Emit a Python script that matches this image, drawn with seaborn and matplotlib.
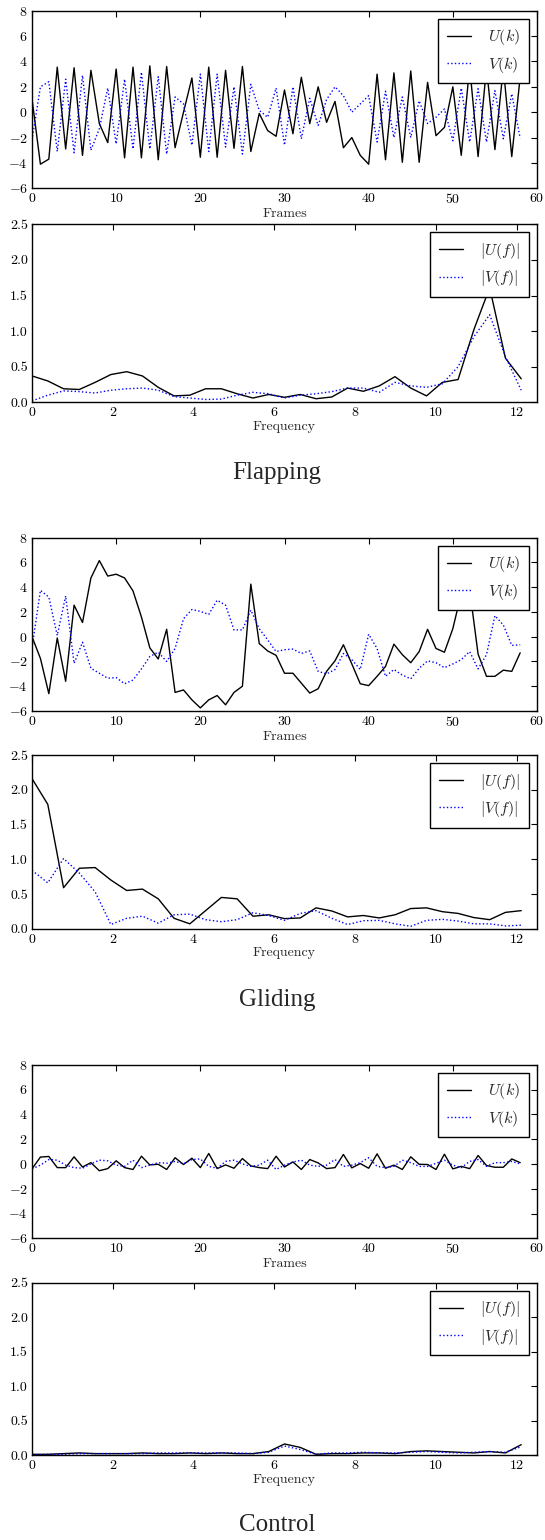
import numpy as np
import pandas as pd
import matplotlib
matplotlib.use("Agg")
import matplotlib.pyplot as plt
import seaborn as sns
from matplotlib.ticker import FixedLocator

# ---------------- data ----------------
frames = list(range(59))
freqs = [k * 25 / 64 for k in range(32)]

flap_U = [1.05, -4.1, -3.7, 3.55, -2.9, 3.5, -3.4, 3.3, -0.9, -2.4,
          3.4, -3.6, 3.55, -3.6, 3.65, -3.75, 3.6, -2.8, 0.0, 2.7,
          -3.55, 3.55, -3.55, 3.3, -2.85, 3.6, -3.1, -0.1, -1.45, -1.9,
          1.75, -1.7, 2.75, -0.9, 2.0, -0.8, 0.85, -2.8, -2.0, -3.4,
          -4.1, 3.0, -3.75, 3.1, -3.95, 3.25, -3.95, 2.35, -1.85, -1.2,
          2.0, -3.4, 3.6, -3.5, 3.5, -2.95, 3.5, -3.5, 2.75]
flap_V = [-2.2, 2.0, 2.4, -3.1, 2.6, -3.2, 2.9, -3.0, -1.3, 1.9,
          -2.5, 2.6, -2.9, 3.15, -2.9, 2.8, -3.3, 1.2, 0.65, -2.6,
          3.0, -3.1, 3.0, -2.75, 2.0, -3.3, 2.2, 0.15, -0.4, 1.9,
          -2.6, 2.0, -2.1, 1.1, -1.05, 1.0, 2.0, 1.3, 0.0, 0.65,
          1.3, -2.35, 1.65, -2.0, 1.2, -2.0, 0.9, -0.9, -0.4, 0.25,
          -2.25, 1.9, -2.35, 1.85, -2.35, 1.7, -2.1, 1.45, -2.05]
flap_Uf = [0.37, 0.30, 0.19, 0.18, 0.28, 0.39, 0.43, 0.37, 0.21, 0.09,
           0.10, 0.19, 0.19, 0.12, 0.06, 0.11, 0.07, 0.11, 0.05, 0.075,
           0.20, 0.155, 0.23, 0.36, 0.20, 0.09, 0.28, 0.32, 1.02, 1.61,
           0.62, 0.33]
flap_Vf = [0.02, 0.10, 0.16, 0.15, 0.13, 0.17, 0.19, 0.20, 0.17, 0.08,
           0.06, 0.04, 0.045, 0.10, 0.14, 0.12, 0.06, 0.10, 0.12, 0.15,
           0.20, 0.20, 0.14, 0.28, 0.23, 0.21, 0.26, 0.50, 0.92, 1.23,
           0.64, 0.17]

glide_U = [0.0, -1.75, -4.6, -0.1, -3.6, 2.55, 1.15, 4.75, 6.15, 4.9,
           5.05, 4.75, 3.7, 1.6, -0.9, -1.8, 0.6, -4.5, -4.3, -5.1,
           -5.75, -5.1, -4.75, -5.5, -4.5, -4.0, 4.25, -0.55, -1.15, -1.5,
           -2.95, -2.95, -3.75, -4.55, -4.2, -2.8, -1.95, -0.65, -2.2, -3.8,
           -3.95, -3.2, -2.4, -0.6, -1.45, -2.1, -1.2, 0.6, -0.95, -1.25,
           0.65, 3.5, 3.8, -1.4, -3.2, -3.2, -2.7, -2.8, -1.3]
glide_V = [-0.9, 3.75, 3.2, 0.1, 3.3, -2.15, -0.45, -2.55, -2.95, -3.35,
           -3.3, -3.8, -3.5, -2.6, -1.6, -1.25, -2.0, -0.95, 1.45, 2.2,
           2.05, 1.8, 2.95, 2.55, 0.55, 0.55, 2.15, 0.65, -0.25, -1.2,
           -1.05, -1.0, -1.35, -1.15, -2.8, -3.0, -2.65, -1.35, -1.85, -2.65,
           0.2, -0.95, -3.2, -2.65, -3.1, -3.4, -2.55, -1.95, -2.1, -2.5,
           -2.2, -1.85, -1.2, -2.6, -1.45, 1.7, 0.95, -0.7, -0.65]
glide_Uf = [2.16, 1.79, 0.59, 0.87, 0.88, 0.70, 0.55, 0.57, 0.43, 0.15,
            0.07, 0.26, 0.45, 0.43, 0.18, 0.20, 0.145, 0.155, 0.30, 0.255,
            0.17, 0.19, 0.155, 0.20, 0.29, 0.30, 0.245, 0.22, 0.16, 0.13,
            0.235, 0.26]
glide_Vf = [0.84, 0.66, 1.01, 0.80, 0.53, 0.06, 0.15, 0.18, 0.08, 0.20,
            0.21, 0.13, 0.10, 0.13, 0.23, 0.19, 0.12, 0.22, 0.26, 0.15,
            0.06, 0.115, 0.12, 0.07, 0.035, 0.12, 0.135, 0.11, 0.07, 0.07,
            0.04, 0.05]

ctrl_U = [-0.4, 0.55, 0.6, -0.3, -0.3, 0.57, -0.25, 0.1, -0.55, -0.38,
          0.25, -0.3, -0.45, 0.62, -0.08, -0.03, -0.45, 0.5, -0.05, 0.46,
          -0.3, 0.84, -0.38, -0.08, -0.35, 0.43, -0.16, -0.3, -0.38, 0.62,
          -0.25, 0.16, -0.45, 0.35, 0.08, -0.38, -0.3, 0.76, -0.32, 0.03,
          -0.35, 0.81, -0.35, -0.1, -0.45, 0.57, -0.03, -0.05, -0.45, 0.78,
          -0.4, -0.2, -0.38, 0.68, -0.13, -0.27, -0.27, 0.4, 0.1]
ctrl_V = [-0.4, -0.1, 0.35, 0.3, -0.1, -0.3, -0.35, 0.0, 0.3, 0.25,
          -0.1, -0.2, 0.3, -0.3, -0.1, 0.1, 0.05, 0.2, 0.0, 0.35,
          0.4, -0.2, -0.35, 0.2, 0.3, 0.0, -0.2, -0.1, 0.3, -0.45,
          -0.1, 0.15, 0.3, -0.1, -0.2, -0.1, 0.35, -0.2, -0.1, 0.1,
          0.5, -0.2, -0.3, -0.2, 0.3, 0.1, -0.2, -0.2, 0.05, 0.3,
          -0.1, -0.3, 0.2, 0.35, -0.2, 0.1, 0.1, 0.2, 0.0]
ctrl_Uf = [0.01, 0.01, 0.02, 0.03, 0.02, 0.02, 0.02, 0.03, 0.02, 0.02,
           0.03, 0.02, 0.03, 0.02, 0.02, 0.05, 0.16, 0.11, 0.01, 0.02,
           0.02, 0.03, 0.03, 0.02, 0.05, 0.06, 0.05, 0.04, 0.03, 0.05,
           0.03, 0.15]
ctrl_Vf = [0.0, 0.01, 0.01, 0.02, 0.02, 0.02, 0.02, 0.02, 0.03, 0.03,
           0.03, 0.03, 0.03, 0.03, 0.02, 0.04, 0.13, 0.08, 0.01, 0.03,
           0.03, 0.04, 0.03, 0.03, 0.04, 0.05, 0.04, 0.03, 0.04, 0.05,
           0.04, 0.12]

captions = ["Flapping", "Gliding", "Control"]
time_ticks = [0, 10, 20, 30, 40, 50, 60]
time_yticks = [-6, -4, -2, 0, 2, 4, 6, 8]
freq_ticks = [0, 2, 4, 6, 8, 10, 12]
freq_yticks = [0.0, 0.5, 1.0, 1.5, 2.0, 2.5]

# ---------------- style ----------------
sns.set_style("white")
plt.rcParams.update({
    "font.family": ["cmr10", "DejaVu Serif"],
    "mathtext.fontset": "cm",
    "axes.unicode_minus": False,
    "axes.formatter.use_mathtext": True,
    "axes.edgecolor": "black",
    "axes.linewidth": 1.0,
    "xtick.direction": "in",
    "ytick.direction": "in",
    "xtick.top": True,
    "ytick.right": True,
    "xtick.major.size": 4,
    "ytick.major.size": 4,
    "xtick.major.pad": 3,
    "ytick.major.pad": 3,
    "xtick.labelsize": 10,
    "ytick.labelsize": 10,
    "xtick.color": "black",
    "ytick.color": "black",
})

W, H = 545, 1540
fig = plt.figure(figsize=(W / 100, H / 100), dpi=100)

left = 32 / W
width = (537 - 32) / W
# (top px, bottom px) for each panel
boxes = [(10.7, 188.3), (224.3, 402.3),
         (537.7, 711.0), (755.0, 928.7),
         (1064.7, 1238.3), (1282.7, 1455.0)]
cap_y = [473, 1000, 1525]

groups = [
    (flap_U, flap_V, flap_Uf, flap_Vf),
    (glide_U, glide_V, glide_Uf, glide_Vf),
    (ctrl_U, ctrl_V, ctrl_Uf, ctrl_Vf),
]


def make_ax(top, bottom):
    return fig.add_axes([left, 1 - bottom / H, width, (bottom - top) / H])


def style_legend(ax, labels):
    handles = ax.get_lines()[:2]
    leg = ax.legend(handles, labels, loc="upper right", fontsize=11.5,
                    frameon=True, fancybox=False, edgecolor="black",
                    framealpha=1.0, handlelength=1.5, handletextpad=1.1,
                    borderpad=0.55, labelspacing=0.45, borderaxespad=0.5)
    leg.get_frame().set_linewidth(1.0)


for gi, (U, V, Uf, Vf) in enumerate(groups):
    # time-domain panel
    ax = make_ax(*boxes[2 * gi])
    dft = pd.DataFrame({"k": frames, "U": U, "V": V})
    sns.lineplot(data=dft, x="k", y="U", ax=ax, color="black", lw=1.0)
    sns.lineplot(data=dft, x="k", y="V", ax=ax, color="blue", lw=1.0,
                 linestyle=":")
    ax.set_xlim(0, 60)
    ax.set_ylim(-6, 8)
    ax.xaxis.set_major_locator(FixedLocator(time_ticks))
    ax.yaxis.set_major_locator(FixedLocator(time_yticks))
    ax.set_xlabel("Frames", fontsize=10, labelpad=1)
    ax.set_ylabel("")
    style_legend(ax, [r"$U(k)$", r"$V(k)$"])

    # frequency-domain panel
    ax2 = make_ax(*boxes[2 * gi + 1])
    dff = pd.DataFrame({"f": freqs, "U": Uf, "V": Vf})
    sns.lineplot(data=dff, x="f", y="U", ax=ax2, color="black", lw=1.0)
    sns.lineplot(data=dff, x="f", y="V", ax=ax2, color="blue", lw=1.0,
                 linestyle=":")
    ax2.set_xlim(0, 12.5)
    ax2.set_ylim(0, 2.5)
    ax2.xaxis.set_major_locator(FixedLocator(freq_ticks))
    ax2.yaxis.set_major_locator(FixedLocator(freq_yticks))
    ax2.yaxis.set_major_formatter(matplotlib.ticker.FormatStrFormatter("%.1f"))
    ax2.set_xlabel("Frequency", fontsize=10, labelpad=1)
    ax2.set_ylabel("")
    style_legend(ax2, [r"$|U(f)|$", r"$|V(f)|$"])

    fig.text(277 / W, 1 - cap_y[gi] / H, captions[gi], ha="center",
             va="center", fontsize=18, family="Liberation Serif")

fig.savefig("out.png", dpi=100)
